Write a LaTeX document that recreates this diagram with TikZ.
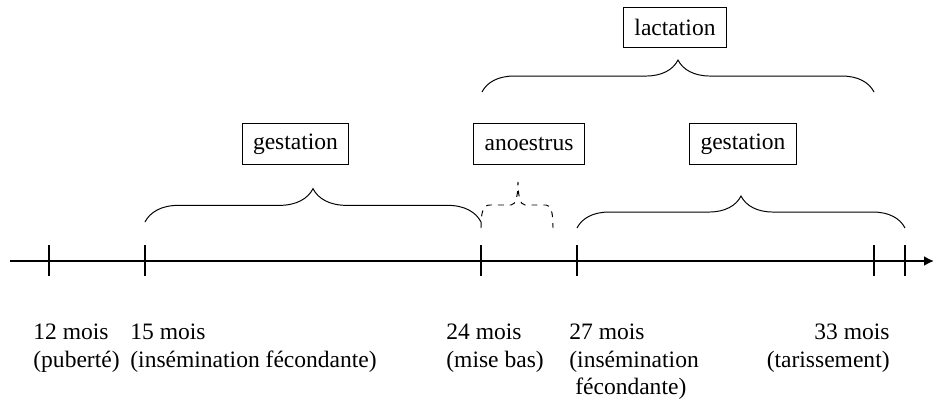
\documentclass[tikz,border=0pt]{standalone}
\usepackage{fontspec}
\setmainfont{Liberation Serif}
\usetikzlibrary{decorations.pathreplacing,arrows.meta}

\tikzset{
	periode/.style={draw,line width=0.6pt,inner xsep=5.5pt,minimum height=20.5pt},
	etiquette/.style={inner sep=0pt},
	accolade/.style={decorate,decoration={brace,amplitude=#1},line width=0.5pt},
	graduation/.style={line width=1.5pt},
}

\begin{document}
\begin{tikzpicture}[x=0.51pt,y=-0.51pt,font=\fontsize{12}{14}\selectfont]
	\useasboundingbox (0,0) rectangle (934,405);
	% axe du temps
	\coordinate (debut) at (10,261);
	\coordinate (fin) at (934,261);
	\draw[line width=1.4pt,-{Latex[length=5pt,width=5pt]}] (debut) -- (fin);
	\foreach \nom/\x in {t12/49,t15/145,t24/481,t27/577,t33/874,t36/905}{
		\coordinate (\nom) at (\x,261);
		\draw[graduation] (\x,245) -- (\x,276);
	}
	% accolades
	\draw[accolade=17pt] (145,222) -- (481,222);
	\draw[dashed,line width=0.5pt] (481,228) .. controls (481,212) and (483,205) .. (490,205) -- (511,205)
		.. controls (516,205) and (518,195) .. (518,182) .. controls (518,195) and (520,205) .. (525,205)
		-- (546,205) .. controls (551,205) and (553,212) .. (553,228);
	\draw[accolade=16.3pt] (577,228) -- (905,228);
	\draw[accolade=16.3pt] (482,92) -- (874,92);
	% periodes
	\node[periode] (gest1) at (295.5,144) {gestation};
	\node[periode] (anoe) at (529,144) {anoestrus};
	\node[periode] (gest2) at (743,144) {gestation};
	\node[periode] (lact) at (675,27.5) {lactation};
	% dates
	\node[etiquette,anchor=north west,align=left] (l12) at (33,324) {12 mois\\(puberté)};
	\node[etiquette,anchor=north west,align=left] (l15) at (130,324) {15 mois\\(insémination fécondante)};
	\node[etiquette,anchor=north west,align=left] (l24) at (446,324) {24 mois\\(mise bas)};
	\node[etiquette,anchor=north west,align=left] (l27) at (569,324) {27 mois\\(insémination\\\hspace*{3pt}fécondante)};
	\node[etiquette,anchor=north east,align=right] (l33) at (890,324) {33 mois\\(tarissement)};
\end{tikzpicture}
\end{document}
